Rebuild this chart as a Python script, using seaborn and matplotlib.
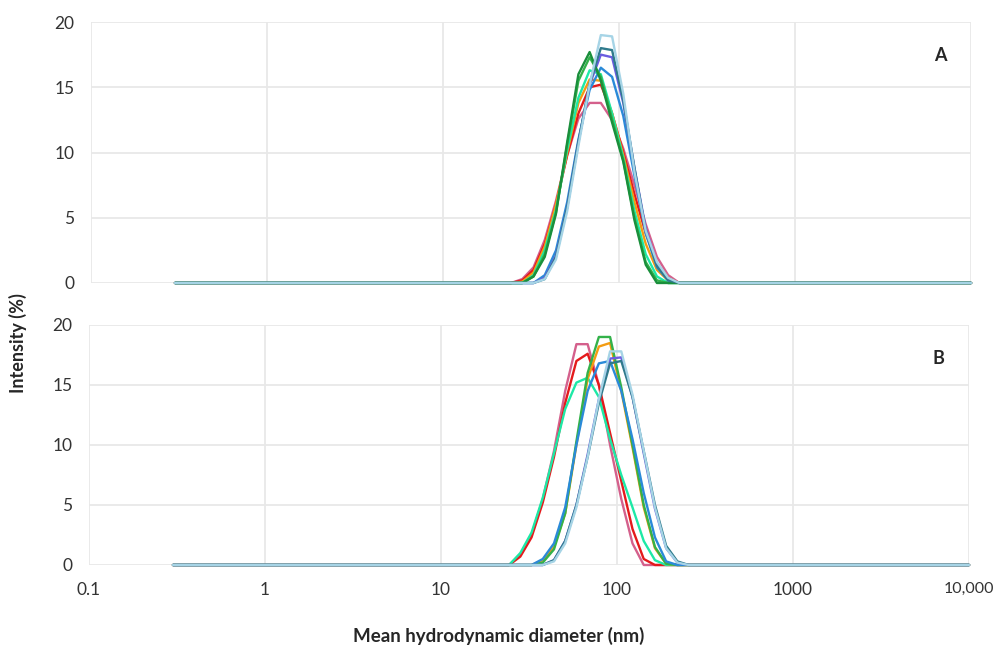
import numpy as np
import matplotlib
matplotlib.use("Agg")
import matplotlib.pyplot as plt
import seaborn as sns
import pandas as pd

# rozmiary (nm) - przedziały pomiaru DLS
sizes = [0.3, 24.36, 28.21, 32.67, 37.84, 43.82, 50.75, 58.77, 68.06, 78.82,
         91.28, 105.7, 122.4, 141.8, 164.2, 190.1, 220.2, 255.0, 295.3, 10000]

# panel A - intensywność (%)
pink_a = [0, 0, 0.3, 1.2, 3.3, 6.3, 9.8, 12.6, 13.8, 13.8, 12.5, 10.3, 7.5, 4.5, 2.0, 0.6, 0, 0, 0, 0]
red_a = [0, 0, 0.2, 1.0, 3.0, 6.0, 9.8, 13.0, 15.0, 15.2, 13.0, 10.0, 6.8, 3.8, 1.5, 0.4, 0, 0, 0, 0]
orange_a = [0, 0, 0.1, 0.8, 2.8, 6.0, 10.0, 13.8, 15.6, 15.5, 13.0, 9.8, 6.2, 3.0, 1.0, 0.2, 0, 0, 0, 0]
mint_a = [0, 0, 0, 0.6, 2.5, 5.6, 10.2, 14.2, 16.3, 16.0, 13.0, 9.6, 5.5, 2.2, 0.5, 0, 0, 0, 0, 0]
green_a = [0, 0, 0, 0.5, 2.2, 5.4, 10.6, 15.5, 17.3, 15.8, 12.6, 9.4, 5.0, 1.6, 0.2, 0, 0, 0, 0, 0]
dkgreen_a = [0, 0, 0, 0.5, 2.0, 5.3, 10.8, 16.0, 17.7, 15.5, 12.3, 9.3, 4.8, 1.4, 0, 0, 0, 0, 0, 0]
blue_a = [0, 0, 0, 0, 0.6, 2.5, 6.2, 11.0, 14.8, 16.5, 15.8, 12.8, 8.2, 3.8, 1.2, 0.2, 0, 0, 0, 0]
purple_a = [0, 0, 0, 0, 0.4, 2.1, 5.8, 10.8, 15.2, 17.5, 17.3, 13.8, 8.8, 4.2, 1.4, 0.2, 0, 0, 0, 0]
dkteal_a = [0, 0, 0, 0, 0.3, 2.0, 5.8, 10.8, 15.3, 18.0, 17.85, 14.0, 8.8, 4.0, 1.3, 0.2, 0, 0, 0, 0]
ltblue_a = [0, 0, 0, 0, 0.3, 1.8, 5.5, 10.5, 15.2, 19.0, 18.9, 14.5, 8.5, 4.0, 1.6, 0.4, 0, 0, 0, 0]

# panel B - intensywność (%)
pink_b = [0, 0, 0.9, 2.5, 5.5, 9.5, 14.5, 18.4, 18.4, 15.0, 10.0, 5.5, 1.8, 0, 0, 0, 0, 0, 0, 0]
red_b = [0, 0, 0.7, 2.3, 5.2, 9.0, 13.5, 17.0, 17.6, 15.0, 11.0, 7.0, 3.0, 0.5, 0, 0, 0, 0, 0, 0]
mint_b = [0, 0, 1.0, 2.7, 5.6, 9.3, 13.0, 15.2, 15.6, 14.0, 10.5, 7.5, 4.8, 2.0, 0.4, 0, 0, 0, 0, 0]
green_b = [0, 0, 0, 0, 0.2, 1.3, 4.3, 10.3, 16.0, 19.0, 19.0, 14.8, 10.0, 5.0, 1.5, 0.1, 0, 0, 0, 0]
orange_b = [0, 0, 0, 0, 0.4, 1.5, 4.3, 10.0, 15.5, 18.2, 18.5, 14.5, 9.8, 4.8, 1.4, 0.1, 0, 0, 0, 0]
blue_b = [0, 0, 0, 0, 0.5, 1.8, 4.8, 10.0, 14.5, 16.8, 17.0, 14.5, 10.5, 6.0, 2.3, 0.3, 0, 0, 0, 0]
purple_b = [0, 0, 0, 0, 0, 0.4, 2.0, 5.0, 9.2, 13.8, 17.2, 17.3, 14.0, 9.3, 4.7, 1.4, 0.2, 0, 0, 0]
dkteal_b = [0, 0, 0, 0, 0, 0.4, 2.0, 5.0, 9.0, 13.5, 16.8, 17.0, 14.0, 9.5, 5.0, 1.6, 0.3, 0, 0, 0]
ltblue_b = [0, 0, 0, 0, 0, 0.3, 1.8, 4.8, 9.0, 13.8, 17.8, 17.8, 14.2, 9.5, 4.8, 1.4, 0.2, 0, 0, 0]

colors = {
    'pink': '#d4608c', 'red': '#e41a1c', 'orange': '#f39c12', 'mint': '#1de9a6',
    'green': '#33b24a', 'dkgreen': '#1a8f3c', 'blue': '#2a8ad8', 'purple': '#6a5ce0',
    'dkteal': '#2f7a8c', 'ltblue': '#a6d4e6',
}

panel_a = {'pink': pink_a, 'red': red_a, 'orange': orange_a, 'mint': mint_a, 'blue': blue_a,
           'purple': purple_a, 'green': green_a, 'dkgreen': dkgreen_a, 'dkteal': dkteal_a,
           'ltblue': ltblue_a}
panel_b = {'pink': pink_b, 'red': red_b, 'mint': mint_b, 'orange': orange_b, 'green': green_b,
           'blue': blue_b, 'purple': purple_b, 'dkteal': dkteal_b, 'ltblue': ltblue_b}

xticks = [0.1, 1, 10, 100, 1000, 10000]
xticklabels = ['0.1', '1', '10', '100', '1000', '10,000']
yticks = [0, 5, 10, 15, 20]


def to_long(panel):
    rows = []
    for name, vals in panel.items():
        for s, v in zip(sizes, vals):
            rows.append({'sample': name, 'size': s, 'intensity': v})
    return pd.DataFrame(rows)


sns.set_style('white')
plt.rcParams['font.family'] = ['Lato', 'DejaVu Sans']

fig = plt.figure(figsize=(9.98, 6.48), dpi=100)
ax_a = fig.add_axes([0.0912, 0.5633, 0.8818, 0.4027])
ax_b = fig.add_axes([0.0892, 0.1281, 0.8818, 0.3704])

for ax, panel, letter in [(ax_a, panel_a, 'A'), (ax_b, panel_b, 'B')]:
    df = to_long(panel)
    sns.lineplot(data=df, x='size', y='intensity', hue='sample', palette=colors,
                 estimator=None, sort=False, legend=False, lw=1.7, ax=ax)
    ax.set_xscale('log')
    ax.set_xlim(0.1, 10000)
    ax.set_ylim(0, 20)
    ax.set_yticks(yticks)
    ax.set_xticks(xticks)
    ax.minorticks_off()
    ax.grid(True, color='#e8e8e8', lw=1.3)
    ax.set_axisbelow(True)
    for sp in ax.spines.values():
        sp.set_visible(False)
    ax.tick_params(axis='y', labelsize=12.5, labelcolor='#333333', pad=12, length=0)
    ax.tick_params(axis='x', labelsize=12.5, labelcolor='#333333', pad=12, length=0)
    ax.set_xlabel('')
    ax.set_ylabel('')
    ax.text(0.965, 0.87 if letter == 'A' else 0.86, letter, transform=ax.transAxes,
            fontsize=13, fontweight='bold', ha='center', va='center')
    for line in ax.get_lines():
        line.set_clip_on(False)

ax_a.set_xticklabels([])
ax_b.set_xticklabels(xticklabels)
for lab in ax_b.get_xticklabels():
    if lab.get_text() == '10,000':
        lab.set_fontsize(11.5)

fig.text(0.018, 0.47, 'Intensity (%)', rotation=90, fontsize=13, fontweight='bold',
         ha='center', va='center')
fig.text(0.5, 0.018, 'Mean hydrodynamic diameter (nm)', fontsize=13.5, fontweight='bold',
         ha='center', va='center')

fig.savefig('out.png', dpi=100)
